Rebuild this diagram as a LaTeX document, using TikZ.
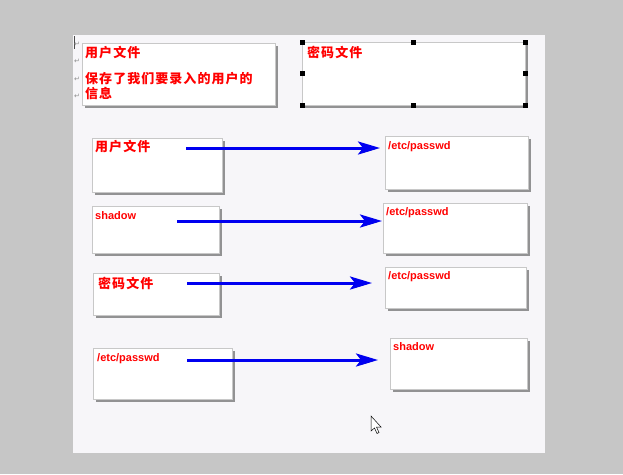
\documentclass[tikz,border=0pt]{standalone}
\usepackage{fontspec}
\setmainfont{Liberation Sans}
\newfontfamily\cjk{Noto Sans CJK SC}[LetterSpace=8]
\newfontfamily\symfont{DejaVu Sans}
\usetikzlibrary{arrows.meta,shadows}
\definecolor{deskgray}{HTML}{C6C6C6}
\definecolor{pagewhite}{HTML}{F7F6F9}
\definecolor{boxline}{HTML}{C8C8C8}
\definecolor{penblue}{HTML}{0000F0}

\begin{document}
\begin{tikzpicture}[x=1pt,y=-1pt,
    filebox/.style={draw=boxline, fill=white, line width=0.8pt, anchor=north west, inner sep=0pt,
      drop shadow={shadow xshift=2.5pt, shadow yshift=-2.5pt, fill=black!75, opacity=.55}},
    cnlabel/.style={text=red, font=\cjk\bfseries\fontsize{13}{15}\selectfont, anchor=west, inner sep=0pt},
    enlabel/.style={text=red, font=\bfseries\fontsize{11}{13}\selectfont, anchor=west, inner sep=0pt},
    bluearrow/.style={line width=3pt, penblue, -{Stealth[length=22pt,width=13pt,inset=5pt]},
      preaction={draw=blue!35!black, transform canvas={yshift=-1pt}}},
    handle/.style={fill=black, minimum size=5pt, inner sep=0pt},
    retmark/.style={text=black!45, font=\symfont\fontsize{7}{7}\selectfont, inner sep=0pt}]

    \fill[deskgray] (0,0) rectangle (623,474);% Draw desk
    \fill[pagewhite] (73,35) rectangle (545,453);% Draw page
    \draw[black!70, line width=0.8pt] (74,36) -- (74,49);% Draw text cursor
    \foreach \y [count=\i] in {44,61,79,96}
      \node[retmark] (ret\i) at (77,\y) {↵};

    \node[filebox, minimum width=193pt, minimum height=62pt] (userinfo) at (82,43) {};
    \node[filebox, minimum width=223pt, minimum height=63pt] (pwinfo) at (302,42) {};
    \node[cnlabel, anchor=north west, align=left] (userinfotxt) at (85,46) {用户文件\\[11pt]保存了我们要录入的用户的\\信息};
    \node[cnlabel] (pwinfotxt) at (307,52) {密码文件};
    \foreach \a [count=\i] in {north west,north,north east,east,south east,south,south west,west}
      \node[handle] (hdl\i) at (pwinfo.\a) {};% Draw handles

    \node[filebox, minimum width=130pt, minimum height=54pt] (userbox) at (92,138) {};
    \node[filebox, minimum width=143pt, minimum height=53pt] (passwdA) at (385,136) {};
    \node[cnlabel] (usertxt) at (95,147) {用户文件};
    \node[enlabel] (passwdAtxt) at (388,147) {/etc/passwd};

    \node[filebox, minimum width=127pt, minimum height=47pt] (shadowA) at (92,206) {};
    \node[filebox, minimum width=144pt, minimum height=50pt] (passwdB) at (383,203) {};
    \node[enlabel] (shadowAtxt) at (95,216) {shadow};
    \node[enlabel] (passwdBtxt) at (386,213) {/etc/passwd};

    \node[filebox, minimum width=126pt, minimum height=42pt] (pwbox) at (93,273) {};
    \node[filebox, minimum width=141pt, minimum height=41pt] (passwdC) at (385,267) {};
    \node[cnlabel] (pwtxt) at (98,283) {密码文件};
    \node[enlabel] (passwdCtxt) at (388,277) {/etc/passwd};

    \node[filebox, minimum width=139pt, minimum height=51pt] (passwdD) at (93,348) {};
    \node[filebox, minimum width=137pt, minimum height=51pt] (shadowB) at (390,338) {};
    \node[enlabel] (passwdDtxt) at (97,359) {/etc/passwd};
    \node[enlabel] (shadowBtxt) at (393,347) {shadow};

    \coordinate (ArrowAStart) at (186,148);
    \coordinate (ArrowAEnd)   at (380,148);
    \coordinate (ArrowBStart) at (177,221);
    \coordinate (ArrowBEnd)   at (382,221);
    \coordinate (ArrowCStart) at (187,283);
    \coordinate (ArrowCEnd)   at (372,283);
    \coordinate (ArrowDStart) at (187,360);
    \coordinate (ArrowDEnd)   at (378,360);
    \draw[bluearrow] (ArrowAStart) -- (ArrowAEnd);% Draw user arrow
    \draw[bluearrow] (ArrowBStart) -- (ArrowBEnd);% Draw shadow arrow
    \draw[bluearrow] (ArrowCStart) -- (ArrowCEnd);% Draw password arrow
    \draw[bluearrow] (ArrowDStart) -- (ArrowDEnd);% Draw passwd arrow

    \draw[fill=white, line width=0.5pt] (371,416) -- (371,431) -- (374.5,428) -- (377,433.5)
      -- (379,432.5) -- (376.5,427) -- (381,427) -- cycle;% Draw mouse pointer

  \end{tikzpicture}
\end{document}
